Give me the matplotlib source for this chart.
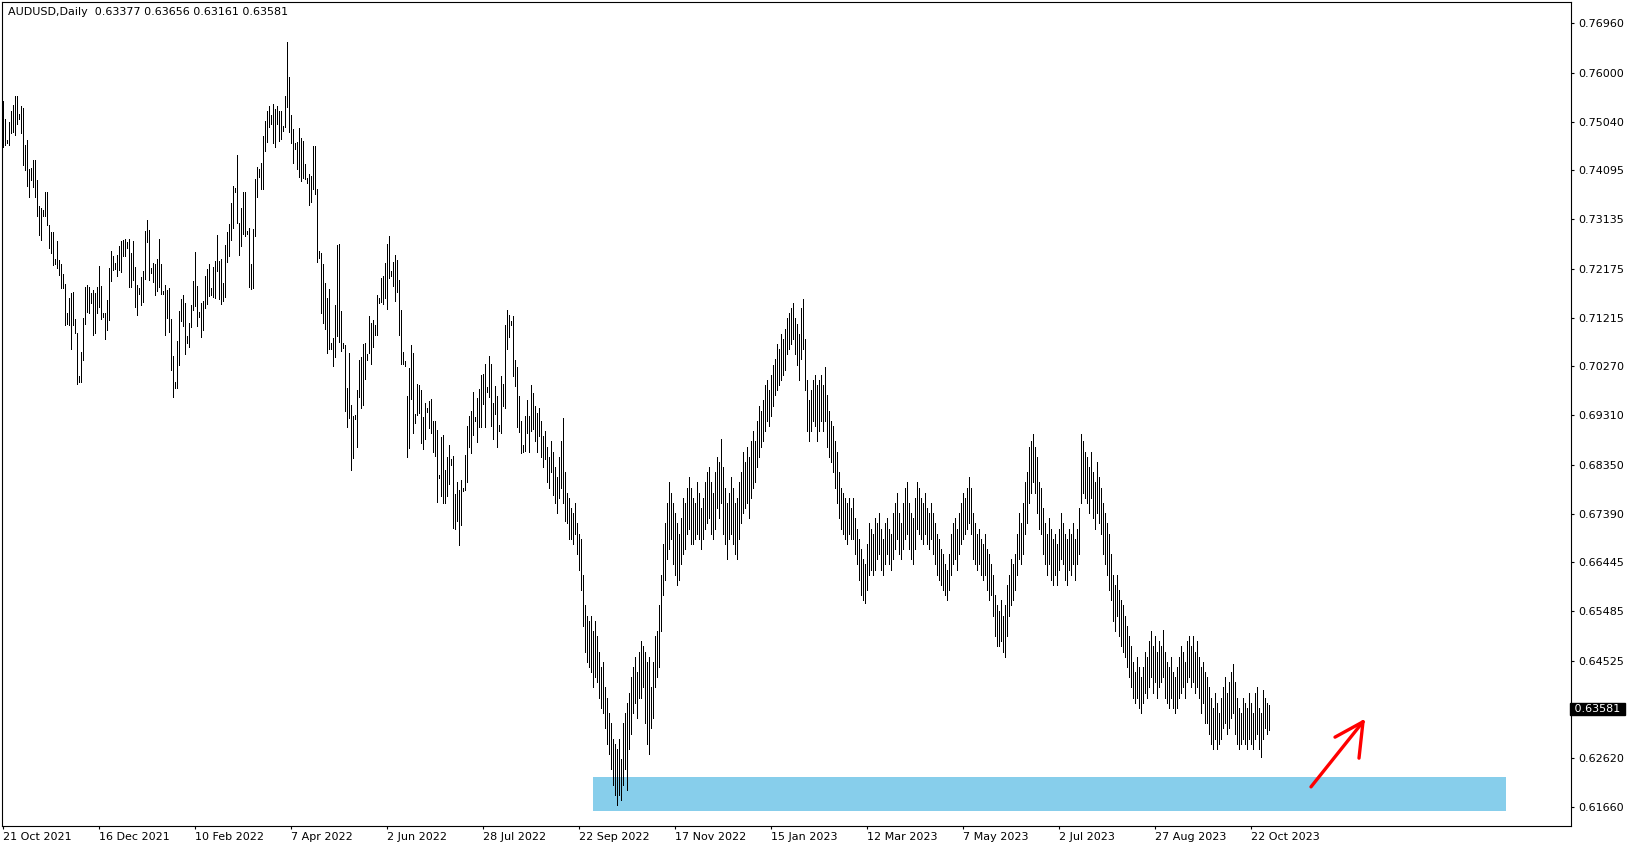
import matplotlib.pyplot as plt
import matplotlib.transforms as mtransforms
from matplotlib.patches import Rectangle
import numpy as np

# header of the chart window
symbol = "AUDUSD,Daily"
last_ohlc = [0.63377, 0.63656, 0.63161, 0.63581]

# daily bar highs / lows (one bar every 2 px in the original terminal)
highs = [
    0.7545, 0.7510, 0.7468, 0.7504, 0.7525, 0.7536, 0.7554, 0.7554, 0.7520, 0.7534,
    0.7530, 0.7458, 0.7468, 0.7411, 0.7413, 0.7429, 0.7429, 0.7391, 0.7339, 0.7335,
    0.7331, 0.7367, 0.7367, 0.7302, 0.7289, 0.7289, 0.7237, 0.7271, 0.7234, 0.7227,
    0.7207, 0.7188, 0.7131, 0.7159, 0.7169, 0.7171, 0.7119, 0.7092, 0.7007, 0.7054,
    0.7120, 0.7182, 0.7185, 0.7181, 0.7169, 0.7175, 0.7169, 0.7182, 0.7222, 0.7184,
    0.7130, 0.7130, 0.7156,
    0.7218, 0.7251, 0.7242, 0.7228, 0.7244, 0.7262, 0.7271, 0.7273, 0.7275, 0.7270,
    0.7275, 0.7247, 0.7271, 0.7220, 0.7186, 0.7179, 0.7201, 0.7212, 0.7291, 0.7312,
    0.7293, 0.7219, 0.7229, 0.7226, 0.7236, 0.7275, 0.7226, 0.7174, 0.7186, 0.7176,
    0.7179, 0.7119, 0.7046, 0.6996, 0.7076, 0.7135, 0.7158, 0.7166, 0.7151, 0.7086,
    0.7112, 0.7147, 0.7193, 0.7249, 0.7184, 0.7132, 0.7150, 0.7154, 0.7203, 0.7217,
    0.7226, 0.7180, 0.7221,
    0.7233, 0.7283, 0.7233, 0.7236, 0.7189, 0.7263, 0.7289, 0.7304, 0.7346, 0.7379,
    0.7374, 0.7439, 0.7307, 0.7335, 0.7366, 0.7366, 0.7291, 0.7296, 0.7226, 0.7295,
    0.7392, 0.7416, 0.7411, 0.7423, 0.7476, 0.7505, 0.7525, 0.7535, 0.7517, 0.7539,
    0.7528, 0.7535, 0.7524, 0.7524, 0.7496, 0.7554, 0.7660, 0.7592, 0.7517, 0.7489,
    0.7462, 0.7465, 0.7491, 0.7473, 0.7467, 0.7421, 0.7394, 0.7402, 0.7398, 0.7457,
    0.7457, 0.7373, 0.7252,
    0.7248, 0.7227, 0.7190, 0.7160, 0.7177, 0.7073, 0.7081, 0.7146, 0.7263, 0.7265,
    0.7135, 0.7073, 0.7068, 0.6985, 0.7053, 0.6952, 0.6930, 0.6931, 0.6980, 0.7039,
    0.7045, 0.7070, 0.7073, 0.7050, 0.7125, 0.7112, 0.7118, 0.7107, 0.7166, 0.7160,
    0.7199, 0.7203, 0.7229, 0.7266, 0.7281, 0.7212, 0.7231, 0.7244, 0.7234, 0.7195,
    0.7136, 0.7055, 0.7037, 0.6969, 0.7024, 0.7068, 0.7052, 0.6933, 0.6993, 0.6991,
    0.6980, 0.6928, 0.6956,
    0.6945, 0.6958, 0.6963, 0.6919, 0.6919, 0.6903, 0.6815, 0.6888, 0.6893, 0.6825,
    0.6849, 0.6874, 0.6846, 0.6852, 0.6778, 0.6801, 0.6786, 0.6805, 0.6789, 0.6854,
    0.6911, 0.6930, 0.6939, 0.6976, 0.6927, 0.6965, 0.6982, 0.7010, 0.7012, 0.7032,
    0.6987, 0.7046, 0.7032, 0.6956, 0.6989, 0.6969, 0.6913, 0.7008, 0.6993, 0.7108,
    0.7136, 0.7127, 0.7116, 0.7124, 0.7039, 0.7025, 0.6969, 0.6919, 0.6874, 0.6929,
    0.6961, 0.6930, 0.6991,
    0.6975, 0.6950, 0.6935, 0.6945, 0.6920, 0.6890, 0.6900, 0.6870, 0.6850, 0.6880, 0.6860,
    0.6830, 0.6810, 0.6850, 0.6880, 0.6925, 0.6820, 0.6780, 0.6770,
    0.6750, 0.6740, 0.6760, 0.6720, 0.6700,
    0.6690, 0.6620, 0.6560, 0.6540,
    0.6530, 0.6540, 0.6510, 0.6530, 0.6500, 0.6470, 0.6440, 0.6450,
    0.6400, 0.6380, 0.6350, 0.6330, 0.6300, 0.6290,
    0.6280, 0.6300, 0.6260, 0.6330, 0.6350, 0.6370,
    0.6390, 0.6420, 0.6440, 0.6460, 0.6430, 0.6470,
    0.6490, 0.6480, 0.6470, 0.6450, 0.6460, 0.6400,
    0.6450, 0.6500, 0.6510, 0.6560, 0.6620, 0.6680,
    0.6720, 0.6760, 0.6800, 0.6780, 0.6760, 0.6740,
    0.6720, 0.6700, 0.6730, 0.6770, 0.6760, 0.6790, 0.6810, 0.6790,
    0.6770, 0.6760, 0.6800, 0.6780, 0.6750, 0.6770, 0.6800, 0.6820,
    0.6830, 0.6800, 0.6780, 0.6820, 0.6850, 0.6840, 0.6885, 0.6830,
    0.6790, 0.6760, 0.6780, 0.6810, 0.6790, 0.6760, 0.6770, 0.6800,
    0.6820, 0.6860, 0.6840, 0.6870, 0.6850, 0.6880, 0.6900, 0.6880,
    0.6920, 0.6950, 0.6940, 0.6960, 0.6990, 0.7000, 0.6980, 0.7010, 0.7030,
    0.7040, 0.7070, 0.7060, 0.7090, 0.7080, 0.7100, 0.7120, 0.7130,
    0.7140, 0.7150, 0.7120, 0.7110, 0.7090, 0.7140, 0.7158,
    0.7080, 0.7000, 0.6960, 0.6980, 0.7000, 0.7010, 0.6990, 0.7000,
    0.7010, 0.6990, 0.7025, 0.6970, 0.6940, 0.6920, 0.6910,
    0.6880, 0.6860, 0.6820, 0.6790, 0.6780, 0.6770, 0.6760,
    0.6770, 0.6750, 0.6770, 0.6730, 0.6710, 0.6690,
    0.6670, 0.6650, 0.6640, 0.6680, 0.6720, 0.6710,
    0.6700, 0.6730, 0.6720, 0.6740, 0.6710, 0.6690, 0.6720,
    0.6730, 0.6710, 0.6700, 0.6740, 0.6760, 0.6780, 0.6740, 0.6720,
    0.6760, 0.6790, 0.6800, 0.6760, 0.6740, 0.6730, 0.6770, 0.6800,
    0.6790, 0.6770, 0.6760, 0.6780, 0.6750, 0.6740, 0.6760, 0.6740,
    0.6720, 0.6700, 0.6690, 0.6670, 0.6660, 0.6640, 0.6630, 0.6660,
    0.6700, 0.6720, 0.6730, 0.6710, 0.6740, 0.6760, 0.6780, 0.6770,
    0.6790, 0.6810, 0.6790, 0.6740, 0.6720, 0.6700, 0.6710, 0.6690,
    0.6680, 0.6700, 0.6670, 0.6660, 0.6640, 0.6620, 0.6580, 0.6560,
    0.6550, 0.6570, 0.6540, 0.6560, 0.6600, 0.6620, 0.6650, 0.6640,
    0.6660, 0.6700, 0.6740, 0.6720, 0.6760, 0.6800, 0.6820, 0.6870,
    0.6880, 0.6895, 0.6870, 0.6850, 0.6800, 0.6790, 0.6750, 0.6720,
    0.6700, 0.6730, 0.6710, 0.6690, 0.6700, 0.6680, 0.6710, 0.6740,
    0.6720, 0.6700, 0.6690, 0.6710, 0.6700, 0.6720, 0.6690, 0.6710,
    0.6750, 0.6895, 0.6880, 0.6860, 0.6850, 0.6830, 0.6860, 0.6820,
    0.6800, 0.6840, 0.6810, 0.6790, 0.6760, 0.6740, 0.6720, 0.6700,
    0.6660, 0.6620, 0.6600, 0.6620, 0.6590, 0.6570, 0.6560, 0.6540,
    0.6520, 0.6500, 0.6480, 0.6450, 0.6430, 0.6460, 0.6440, 0.6420,
    0.6440, 0.6470, 0.6460, 0.6490, 0.6510, 0.6480, 0.6500, 0.6470,
    0.6490, 0.6480, 0.6512, 0.6470, 0.6450, 0.6440, 0.6460, 0.6430,
    0.6420, 0.6440, 0.6460, 0.6480, 0.6470, 0.6450, 0.6490, 0.6500,
    0.6480, 0.6500, 0.6470, 0.6490, 0.6460, 0.6440, 0.6450, 0.6430,
    0.6420, 0.6400, 0.6380, 0.6360, 0.6390, 0.6370, 0.6350, 0.6380,
    0.6400, 0.6420, 0.6390, 0.6410, 0.6430, 0.6445, 0.6410, 0.6380,
    0.6360, 0.6350, 0.6380, 0.6370, 0.6360, 0.6390, 0.6370, 0.6350,
    0.6390, 0.6400, 0.6360, 0.6350, 0.6395, 0.6380, 0.6370, 0.63656,
]
lows = [
    0.7455, 0.7458, 0.7463, 0.7458, 0.7482, 0.7484, 0.7478, 0.7500, 0.7510, 0.7482,
    0.7419, 0.7410, 0.7378, 0.7357, 0.7390, 0.7377, 0.7357, 0.7320, 0.7283, 0.7273,
    0.7320, 0.7320, 0.7302, 0.7257, 0.7247, 0.7224, 0.7226, 0.7218, 0.7205, 0.7179,
    0.7179, 0.7107, 0.7110, 0.7107, 0.7061, 0.7107, 0.7091, 0.6992, 0.6996, 0.6996,
    0.7039, 0.7110, 0.7133, 0.7130, 0.7151, 0.7088, 0.7091, 0.7130, 0.7143, 0.7119,
    0.7122, 0.7079, 0.7097,
    0.7117, 0.7194, 0.7215, 0.7216, 0.7203, 0.7215, 0.7210, 0.7241, 0.7241, 0.7257,
    0.7182, 0.7182, 0.7195, 0.7143, 0.7127, 0.7168, 0.7147, 0.7153, 0.7197, 0.7270,
    0.7195, 0.7208, 0.7192, 0.7166, 0.7173, 0.7182, 0.7168, 0.7168, 0.7088, 0.7120,
    0.7093, 0.7020, 0.6966, 0.6985, 0.6985, 0.7030, 0.7116, 0.7106, 0.7050, 0.7072,
    0.7064, 0.7104, 0.7137, 0.7145, 0.7106, 0.7122, 0.7083, 0.7098, 0.7141, 0.7149,
    0.7163, 0.7166, 0.7162,
    0.7160, 0.7213, 0.7158, 0.7148, 0.7155, 0.7162, 0.7231, 0.7241, 0.7273, 0.7297,
    0.7367, 0.7307, 0.7243, 0.7262, 0.7285, 0.7280, 0.7284, 0.7181, 0.7177, 0.7179,
    0.7280, 0.7358, 0.7397, 0.7372, 0.7372, 0.7447, 0.7465, 0.7493, 0.7500, 0.7463,
    0.7454, 0.7500, 0.7467, 0.7470, 0.7485, 0.7494, 0.7533, 0.7483, 0.7463, 0.7424,
    0.7450, 0.7411, 0.7397, 0.7389, 0.7395, 0.7392, 0.7385, 0.7341, 0.7348, 0.7372,
    0.7362, 0.7231, 0.7239,
    0.7131, 0.7112, 0.7099, 0.7052, 0.7060, 0.7060, 0.7028, 0.7045, 0.7086, 0.7075,
    0.7056, 0.7062, 0.6940, 0.6909, 0.6925, 0.6825, 0.6847, 0.6923, 0.6870, 0.6967,
    0.6946, 0.6951, 0.7002, 0.7039, 0.7052, 0.7032, 0.7064, 0.7088, 0.7088, 0.7151,
    0.7153, 0.7149, 0.7159, 0.7138, 0.7199, 0.7203, 0.7184, 0.7155, 0.7172, 0.7088,
    0.7032, 0.7031, 0.7027, 0.6849, 0.6868, 0.6963, 0.6896, 0.6917, 0.6931, 0.6935,
    0.6877, 0.6866, 0.6885,
    0.6937, 0.6906, 0.6896, 0.6859, 0.6851, 0.6761, 0.6808, 0.6774, 0.6760, 0.6760,
    0.6773, 0.6797, 0.6834, 0.6711, 0.6709, 0.6724, 0.6678, 0.6717, 0.6784, 0.6786,
    0.6800, 0.6870, 0.6857, 0.6893, 0.6919, 0.6878, 0.6909, 0.6909, 0.6953, 0.6909,
    0.6976, 0.6966, 0.6911, 0.6885, 0.6933, 0.6869, 0.6901, 0.6896, 0.6950, 0.6945,
    0.7060, 0.7083, 0.7108, 0.7008, 0.6989, 0.6909, 0.6898, 0.6857, 0.6860, 0.6862,
    0.6896, 0.6859, 0.6900,
    0.6905, 0.6880, 0.6860, 0.6890, 0.6850, 0.6830, 0.6845, 0.6800, 0.6790, 0.6820, 0.6775,
    0.6760, 0.6740, 0.6770, 0.6790, 0.6760, 0.6725, 0.6720, 0.6690,
    0.6690, 0.6680, 0.6700, 0.6660, 0.6630,
    0.6590, 0.6520, 0.6470, 0.6450,
    0.6440, 0.6430, 0.6400, 0.6420, 0.6410, 0.6380, 0.6360, 0.6350,
    0.6320, 0.6290, 0.6270, 0.6240, 0.6210, 0.6190,
    0.6170, 0.6190, 0.6180, 0.6210, 0.6240, 0.6200,
    0.6280, 0.6310, 0.6350, 0.6370, 0.6340, 0.6380,
    0.6380, 0.6400, 0.6330, 0.6290, 0.6270, 0.6320,
    0.6340, 0.6400, 0.6420, 0.6440, 0.6510, 0.6580,
    0.6610, 0.6650, 0.6670, 0.6690, 0.6640, 0.6620,
    0.6600, 0.6610, 0.6640, 0.6660, 0.6670, 0.6700, 0.6710, 0.6680,
    0.6680, 0.6690, 0.6700, 0.6690, 0.6670, 0.6690, 0.6710, 0.6720,
    0.6730, 0.6700, 0.6690, 0.6710, 0.6750, 0.6730, 0.6760, 0.6700,
    0.6680, 0.6650, 0.6690, 0.6700, 0.6680, 0.6660, 0.6650, 0.6690,
    0.6720, 0.6740, 0.6750, 0.6760, 0.6730, 0.6770, 0.6790, 0.6800,
    0.6830, 0.6850, 0.6870, 0.6880, 0.6900, 0.6920, 0.6910, 0.6930, 0.6950,
    0.6970, 0.6980, 0.6990, 0.7000, 0.7010, 0.7020, 0.7050, 0.7060,
    0.7070, 0.7080, 0.7050, 0.7030, 0.7000, 0.7040, 0.7060,
    0.6980, 0.6900, 0.6880, 0.6900, 0.6920, 0.6910, 0.6880, 0.6900,
    0.6920, 0.6900, 0.6920, 0.6870, 0.6850, 0.6840, 0.6820,
    0.6790, 0.6760, 0.6730, 0.6710, 0.6700, 0.6690, 0.6680,
    0.6700, 0.6690, 0.6690, 0.6660, 0.6640, 0.6610,
    0.6580, 0.6570, 0.6565, 0.6590, 0.6620, 0.6630,
    0.6620, 0.6630, 0.6650, 0.6660, 0.6630, 0.6620, 0.6640,
    0.6660, 0.6640, 0.6630, 0.6650, 0.6670, 0.6690, 0.6660, 0.6650,
    0.6670, 0.6690, 0.6700, 0.6670, 0.6650, 0.6640, 0.6670, 0.6710,
    0.6700, 0.6690, 0.6680, 0.6700, 0.6680, 0.6670, 0.6690, 0.6660,
    0.6640, 0.6620, 0.6610, 0.6600, 0.6590, 0.6580, 0.6570, 0.6590,
    0.6620, 0.6640, 0.6650, 0.6630, 0.6660, 0.6680, 0.6690, 0.6700,
    0.6710, 0.6720, 0.6700, 0.6650, 0.6640, 0.6630, 0.6640, 0.6620,
    0.6610, 0.6620, 0.6590, 0.6570, 0.6580, 0.6540, 0.6500, 0.6480,
    0.6480, 0.6490, 0.6470, 0.6460, 0.6500, 0.6540, 0.6560, 0.6570,
    0.6590, 0.6620, 0.6650, 0.6640, 0.6660, 0.6700, 0.6720, 0.6760,
    0.6780, 0.6800, 0.6780, 0.6740, 0.6710, 0.6700, 0.6660, 0.6640,
    0.6620, 0.6640, 0.6610, 0.6600, 0.6620, 0.6600, 0.6630, 0.6650,
    0.6640, 0.6610, 0.6600, 0.6630, 0.6620, 0.6640, 0.6610, 0.6640,
    0.6660, 0.6760, 0.6780, 0.6770, 0.6760, 0.6740, 0.6770, 0.6730,
    0.6710, 0.6740, 0.6720, 0.6700, 0.6660, 0.6640, 0.6620, 0.6590,
    0.6570, 0.6530, 0.6510, 0.6540, 0.6500, 0.6480, 0.6470, 0.6460,
    0.6440, 0.6420, 0.6400, 0.6380, 0.6370, 0.6380, 0.6360, 0.6350,
    0.6370, 0.6390, 0.6380, 0.6400, 0.6420, 0.6390, 0.6410, 0.6380,
    0.6400, 0.6410, 0.6420, 0.6380, 0.6370, 0.6360, 0.6380, 0.6360,
    0.6350, 0.6360, 0.6380, 0.6390, 0.6400, 0.6380, 0.6410, 0.6420,
    0.6400, 0.6410, 0.6390, 0.6400, 0.6380, 0.6350, 0.6370, 0.6330,
    0.6330, 0.6310, 0.6290, 0.6280, 0.6300, 0.6280, 0.6290, 0.6300,
    0.6320, 0.6330, 0.6310, 0.6320, 0.6340, 0.6350, 0.6310, 0.6290,
    0.6280, 0.6290, 0.6300, 0.6290, 0.6280, 0.6300, 0.6290, 0.6280,
    0.6300, 0.6310, 0.6280, 0.6265, 0.6300, 0.6320, 0.6310, 0.63161,
]

# time scale: a label every 48 bars
date_labels = ["21 Oct 2021", "16 Dec 2021", "10 Feb 2022", "7 Apr 2022", "2 Jun 2022",
               "28 Jul 2022", "22 Sep 2022", "17 Nov 2022", "15 Jan 2023", "12 Mar 2023",
               "7 May 2023", "2 Jul 2023", "27 Aug 2023", "22 Oct 2023"]
bars_per_label = 48

# price scale
price_ticks = [0.76960, 0.76000, 0.75040, 0.74095, 0.73135, 0.72175, 0.71215, 0.70270,
               0.69310, 0.68350, 0.67390, 0.66445, 0.65485, 0.64525, 0.62620, 0.61660]

# support zone (bar index from/to, price low/high)
zone_bars = (295, 751.5)
zone_prices = (0.6159, 0.6225)

# hand-drawn arrow: tail, tip and the two head ends (bar index, price)
arrow_tail = (654, 0.6206)
arrow_tip = (680, 0.6333)
arrow_head = [(666, 0.6303), (678, 0.6262)]

W, H = 1635, 850
fig = plt.figure(figsize=(W / 100, H / 100), dpi=100)
fig.patch.set_facecolor("white")
ax = fig.add_axes([2 / W, 24 / H, 1569 / W, 824 / H])

n = min(len(highs), len(lows))
x = np.arange(n)

# zone first, bars over it
ax.add_patch(Rectangle((zone_bars[0], zone_prices[0]), zone_bars[1] - zone_bars[0],
                       zone_prices[1] - zone_prices[0], facecolor="#87CEEB",
                       edgecolor="none", zorder=1))
# thin 1 px bars like the terminal draws them
ax.vlines(x, lows[:n], highs[:n], colors="black", linewidth=0.5,
          antialiased=False, zorder=2)

# red arrow
ax.plot([arrow_tail[0], arrow_tip[0]], [arrow_tail[1], arrow_tip[1]],
        color="#ff0000", lw=2.4, solid_capstyle="round", zorder=3)
for hx, hy in arrow_head:
    ax.plot([hx, arrow_tip[0]], [hy, arrow_tip[1]], color="#ff0000", lw=2.4,
            solid_capstyle="round", zorder=3)

ax.set_xlim(-0.5, 784)
ax.set_ylim(0.61296, 0.77376)

# axes frame
for s in ax.spines.values():
    s.set_color("black")
    s.set_linewidth(0.8)

ax.yaxis.tick_right()
ax.set_yticks(price_ticks)
ax.set_yticklabels([f"{p:.5f}" for p in price_ticks])
ax.tick_params(axis="y", direction="out", length=2.5, width=0.8, pad=3,
               labelsize=8, colors="black")

xt = np.arange(len(date_labels)) * bars_per_label
ax.set_xticks(xt)
ax.set_xticklabels(date_labels, ha="left")
ax.tick_params(axis="x", direction="out", length=2.5, width=0.8, pad=2,
               labelsize=8, colors="black")

# current price marker on the price scale
trans = mtransforms.blended_transform_factory(ax.transAxes, ax.transData)
ax.text(1.0, last_ohlc[3], f" {last_ohlc[3]:.5f} ", transform=trans, ha="left",
        va="center", fontsize=8, color="white", clip_on=False,
        bbox=dict(boxstyle="square,pad=0.12", facecolor="black", edgecolor="black"))

# header text
fig.text(8 / W, 1 - 12 / H,
         f"{symbol}  " + " ".join(f"{v:.5f}" for v in last_ohlc),
         fontsize=8, va="center", ha="left", color="black")

fig.savefig("out.png", dpi=100, facecolor="white")
